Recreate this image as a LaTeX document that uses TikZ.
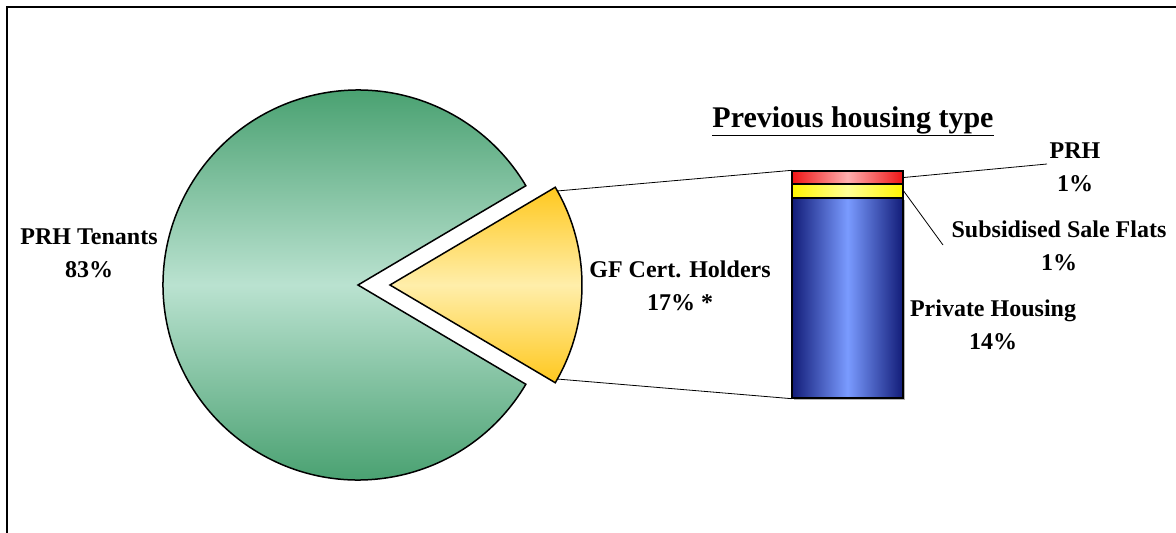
\documentclass[tikz,border=0pt]{standalone}
\usepackage{fontspec}
\setmainfont{Liberation Serif}
\begin{document}
\begin{tikzpicture}[x=1pt,y=-1pt,
  outline/.style={draw=black,line width=1.5pt},
  leader/.style={draw=black,line width=0.8pt},
  lbl/.style={font=\fontsize{24}{33}\selectfont\bfseries,align=center,inner sep=0pt},
  barseg/.style={outline,minimum width=111pt,inner sep=0pt,line width=1.3pt},
]
\definecolor{gdark}{RGB}{58,152,100}
\definecolor{glight}{RGB}{186,226,208}
\definecolor{ydark}{RGB}{255,200,30}
\definecolor{ylight}{RGB}{255,238,170}
\definecolor{bdark}{RGB}{18,28,120}
\definecolor{blight}{RGB}{122,155,255}
\definecolor{rdark}{RGB}{240,20,20}
\definecolor{rlight}{RGB}{255,175,175}
\definecolor{yydark}{RGB}{255,245,0}
\definecolor{yylight}{RGB}{255,255,150}
\useasboundingbox (0,0) rectangle (1176,533);
% frame
\draw[line width=1.5pt] (7,533) -- (7,7) -- (1176,7);
% green slice
\coordinate (gc) at (358,285);
\path[outline,top color=gdark,bottom color=gdark,middle color=glight]
  (gc) -- ++(30.6:195) arc[start angle=30.6,end angle=329.4,radius=195] -- cycle;
% yellow slice
\coordinate (yc) at (390,285);
\path[outline,top color=ydark,bottom color=ydark,middle color=ylight]
  (yc) -- ++(-30.6:192) arc[start angle=-30.6,end angle=30.6,radius=192] -- cycle;
\coordinate (ytopc) at (557,191);
\coordinate (ybot) at (557,379);
% bar
\fill[gray!60] (794,200) rectangle (905,400);
\node[barseg,minimum height=200pt,left color=bdark,right color=bdark,middle color=blight] (blue) at (847.5,298) {};
\node[barseg,minimum height=14pt,left color=yydark,right color=yydark,middle color=yylight] (yel) at (847.5,191) {};
\node[barseg,minimum height=13pt,left color=rdark,right color=rdark,middle color=rlight] (red) at (847.5,177.5) {};
% connectors
\draw[leader] (ytopc) -- (red.north west);
\draw[leader] (ybot) -- (blue.south west);
\coordinate (prhend) at (1047,164);
\coordinate (ssfend) at (943,245);
\draw[leader] (red.east) -- (prhend);
\draw[leader] (yel.east) -- (ssfend);
% labels
\node[font=\fontsize{30}{33}\selectfont\bfseries,inner sep=0pt] (title) at (853,121) {\underline{Previous housing type}};
\node[lbl] (prh) at (1075,167) {PRH\\1\%};
\node[lbl] (ssf) at (1059,246) {Subsidised Sale Flats\\1\%};
\node[lbl] (ph) at (993,325) {Private Housing\\14\%};
\node[lbl] (gf) at (680,286) {GF Cert. Holders\\17\% *};
\node[lbl] (prht) at (89,253) {PRH Tenants\\83\%};
\end{tikzpicture}
\end{document}
